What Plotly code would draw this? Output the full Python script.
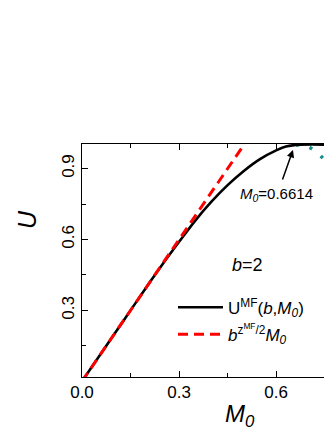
import plotly.graph_objects as go

# U^MF(b, M0) for b=2
m0_mf = [0.0, 0.1, 0.15, 0.2, 0.25, 0.3, 0.35, 0.4, 0.45, 0.5, 0.55, 0.6, 0.63, 0.6614, 0.8]
u_mf = [0.0, 0.2, 0.30, 0.40, 0.497, 0.59, 0.68, 0.76, 0.83, 0.89, 0.94, 0.977, 0.993, 1.0, 1.0]

# linear approximation b^(z/2) M0
m0_lin = [0.0, 0.25, 0.5]
u_lin = [0.0, 0.5, 1.0]

# continuation beyond the saturation point (dotted)
m0_cont = [0.6614, 0.69, 0.71, 0.744, 0.77, 0.8]
u_cont = [1.0, 0.997, 0.984, 0.944, 0.892, 0.83]

m0_star = 0.6614

font = "Liberation Sans, Arial, sans-serif"

fig = go.Figure()
fig.add_trace(go.Scatter(x=m0_cont, y=u_cont, mode="lines", showlegend=False,
                         line=dict(color="#128E8E", width=3.5, dash="3px,11px", shape="spline")))
fig.add_trace(go.Scatter(x=m0_mf, y=u_mf, mode="lines", legendgroup="a",
                         name="U<sup>MF</sup>(<i>b</i>,<i>M<sub>0</sub></i>)",
                         line=dict(color="black", width=2.6, shape="spline")))
fig.add_trace(go.Scatter(x=m0_lin, y=u_lin, mode="lines", legendgroup="b",
                         name="<i>b</i><sup>z<sup>MF</sup>/2</sup><i>M<sub>0</sub></i>",
                         line=dict(color="#FF0000", width=3, dash="10px,6px")))

axis_common = dict(showline=True, linecolor="black", linewidth=1, showgrid=False,
                   zeroline=False, automargin=False, ticks="inside", ticklen=6,
                   tickcolor="black", tickfont=dict(family=font, size=17, color="black"),
                   minor=dict(ticks="inside", ticklen=4, tickcolor="black"))

fig.update_xaxes(range=[0.0, 0.7725], dtick=0.3, tick0=0, tickformat=".1f",
                 mirror="allticks", **axis_common)
fig.update_xaxes(minor_dtick=0.15)
fig.update_yaxes(range=[0.018, 1.004], dtick=0.3, tick0=0, tickformat=".1f",
                 tickangle=-90, mirror=False, **axis_common)
fig.update_yaxes(minor_dtick=0.15)

# page body has an 8px margin; plot area spans page x 82..332, y 144..377
fig.add_annotation(x=0.652, y=0.979, ax=-11, ay=31, showarrow=True, arrowhead=2,
                   arrowsize=1, arrowwidth=1.5, arrowcolor="black",
                   text="", xref="x", yref="y")
fig.add_annotation(x=0.6, y=0.79, xref="x", yref="y", showarrow=False,
                   text="<i>M<sub>0</sub></i>=%.4f" % m0_star,
                   font=dict(family=font, size=15, color="black"))
fig.add_annotation(x=0.512, y=0.49, xref="x", yref="y", showarrow=False,
                   text="<i>b</i>=2", font=dict(family=font, size=18, color="black"))
fig.add_annotation(x=(27 - 82) / 250, y=(377 - 220) / 233, xref="paper", yref="paper",
                   showarrow=False, text="<i>U</i>", textangle=-90,
                   xanchor="center", yanchor="middle",
                   font=dict(family=font, size=25, color="black"))
fig.add_annotation(x=(240 - 82) / 250, y=(377 - 415) / 233, xref="paper", yref="paper",
                   showarrow=False, text="<i>M<sub>0</sub></i>",
                   xanchor="center", yanchor="middle",
                   font=dict(family=font, size=24, color="black"))

fig.update_layout(template="none", width=324, height=422,
                  plot_bgcolor="white", paper_bgcolor="white",
                  margin=dict(l=74, r=0, t=136, b=53),
                  legend=dict(x=0.364, y=0.375, xanchor="left", yanchor="top",
                              bgcolor="rgba(0,0,0,0)", itemwidth=45,
                              traceorder="grouped", tracegroupgap=2,
                              font=dict(family=font, size=17, color="black")))

fig.write_html("out.html")
